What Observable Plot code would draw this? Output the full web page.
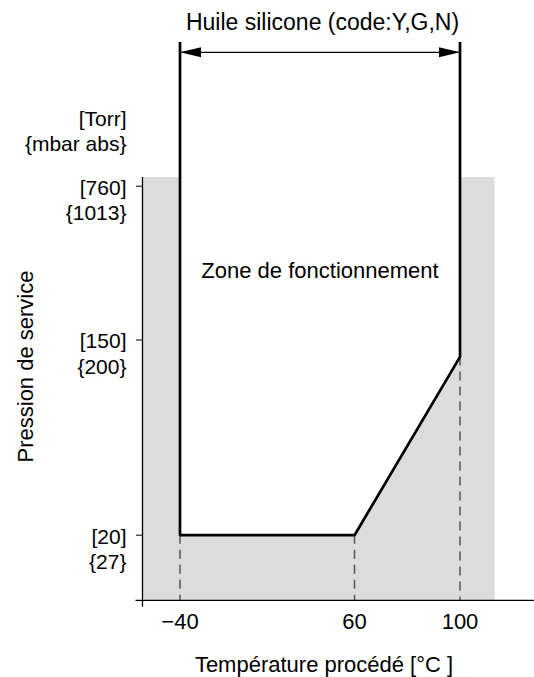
<!DOCTYPE html>
<html>
<head>
<meta charset="utf-8">
<script src="https://cdn.jsdelivr.net/npm/d3@7"></script>
<script src="https://cdn.jsdelivr.net/npm/@observablehq/plot@0.6"></script>
<style>
  body { margin: 0; background: #fff; }
  svg { display: block; }
</style>
</head>
<body>
<div id="chart"></div>
<script>
// ---- texts ----
const titleText = "Huile silicone (code:Y,G,N)";
const zoneLabel = "Zone de fonctionnement";
const xLabel = "Température procédé [°C ]";
const yLabel = "Pression de service";
const unitLabel = "[Torr]\n{mbar abs}";

// ---- tick values ----
const tempTicks = [-40, 60, 100];      // °C
const torrTicks = [20, 150, 760];      // Torr
const mbarTicks = [27, 200, 1013];     // mbar abs

// ---- operating zone: lower pressure limit per temperature ----
const zoneTemp = [-40, 60, 100];
const zoneMinTorr = [20, 20, 126];

// ---- extents ----
const bracketTorr = 3480;          // top of the range bracket lines
const arrowTorr = 3120;            // level of the double arrow
const grayTemp = [-61.5, 113.3];   // shaded area, temperature extent
const grayTorr = [10.2, 833];      // shaded area, pressure extent
const xAxisTemp = [-65.2, 128.2];  // x axis line extent
const yAxisTorr = [9.5, 833];      // y axis line extent

// ---- tables built from the arrays ----
const zone = zoneTemp.map((t, i) => ({t, lo: zoneMinTorr[i], hi: grayTorr[1], base: grayTorr[0]}));
const limitLine = [
  {t: zoneTemp[0], p: bracketTorr},
  ...zone.map(d => ({t: d.t, p: d.lo})),
  {t: zoneTemp[zoneTemp.length - 1], p: bracketTorr}
];
const grayBox = [{x1: grayTemp[0], x2: grayTemp[1], y1: grayTorr[0], y2: grayTorr[1]}];
const arrowLine = [{y: arrowTorr, x1: zoneTemp[0], x2: zoneTemp[zoneTemp.length - 1]}];
const yAxisLine = [{x: grayTemp[0], y1: yAxisTorr[0], y2: yAxisTorr[1]}];
const xAxisLine = [{y: grayTorr[0], x1: xAxisTemp[0], x2: xAxisTemp[1]}];
const yTickLabels = torrTicks.map((p, i) => ({p, label: `[${p}]\n{${mbarTicks[i]}}`}));

// arrowheads (filled, elongated triangles)
const headLen = 21, headHalf = 5;
const headLeft = {draw(ctx) { ctx.moveTo(0, 0); ctx.lineTo(headLen, -headHalf); ctx.lineTo(headLen, headHalf); ctx.closePath(); }};
const headRight = {draw(ctx) { ctx.moveTo(0, 0); ctx.lineTo(-headLen, -headHalf); ctx.lineTo(-headLen, headHalf); ctx.closePath(); }};

const font = "'Liberation Sans', Arial, Helvetica, sans-serif";

const chart = Plot.plot({
  width: 534,
  height: 677,
  marginTop: 0,
  marginRight: 0,
  marginBottom: 77,
  marginLeft: 142,
  style: {fontFamily: font, fontSize: "22px", background: "#fff", color: "#000"},
  x: {type: "linear", domain: tempTicks, range: [179.5, 354, 459.5]},
  y: {type: "log", domain: torrTicks, range: [534.7, 339.5, 185.7]},
  marks: [
    Plot.rect(grayBox, {x1: "x1", x2: "x2", y1: "y1", y2: "y2", fill: "#dcdcdc"}),
    Plot.areaY(zone, {x: "t", y1: "lo", y2: "hi", fill: "#fff"}),
    Plot.ruleX(zone, {x: "t", y1: "lo", y2: "base", stroke: "#555", strokeWidth: 1.5, strokeDasharray: "9,6"}),
    Plot.ruleX(yAxisLine, {x: "x", y1: "y1", y2: "y2", stroke: "#000", strokeWidth: 1.3}),
    Plot.ruleY(xAxisLine, {y: "y", x1: "x1", x2: "x2", stroke: "#000", strokeWidth: 1.3}),
    Plot.line(limitLine, {x: "t", y: "p", stroke: "#000", strokeWidth: 2.7, strokeLinejoin: "miter", strokeLinecap: "butt"}),
    Plot.ruleY(arrowLine, {y: "y", x1: "x1", x2: "x2", stroke: "#000", strokeWidth: 1.3}),
    Plot.dot(arrowLine, {x: "x1", y: "y", symbol: headLeft, r: 5, fill: "#000", stroke: null}),
    Plot.dot(arrowLine, {x: "x2", y: "y", symbol: headRight, r: 5, fill: "#000", stroke: null}),
    Plot.axisY({ticks: torrTicks, tickSize: 6, tickFormat: () => "", label: null, stroke: "#000"}),
    Plot.text(yTickLabels, {y: "p", text: "label", frameAnchor: "left", dx: -16, dy: 13, textAnchor: "end", lineAnchor: "middle", lineHeight: 1.2, fontSize: 21, fill: "#000"}),
    Plot.axisX({ticks: tempTicks, tickSize: 0, tickPadding: 13, label: null, fontSize: 22, fill: "#000"}),
    Plot.text([titleText], {text: d => d, frameAnchor: "top-left", dx: 180, dy: 22, textAnchor: "middle", lineAnchor: "middle", fontSize: 23, fill: "#000"}),
    Plot.text([zoneLabel], {text: d => d, frameAnchor: "top-left", dx: 177.5, dy: 270, textAnchor: "middle", lineAnchor: "middle", fontSize: 22, fill: "#000"}),
    Plot.text([unitLabel], {text: d => d, frameAnchor: "top-left", dx: -16, dy: 130.3, textAnchor: "end", lineAnchor: "middle", lineHeight: 1.2, fontSize: 21, fill: "#000"}),
    Plot.text([xLabel], {text: d => d, frameAnchor: "bottom-left", dx: 181.5, dy: 64, textAnchor: "middle", lineAnchor: "middle", fontSize: 22, fill: "#000"}),
    Plot.text([yLabel], {text: d => d, frameAnchor: "top-left", dx: -117, dy: 366, rotate: -90, textAnchor: "middle", lineAnchor: "middle", fontSize: 22, fill: "#000"})
  ]
});
document.getElementById("chart").append(chart);
</script>
</body>
</html>
